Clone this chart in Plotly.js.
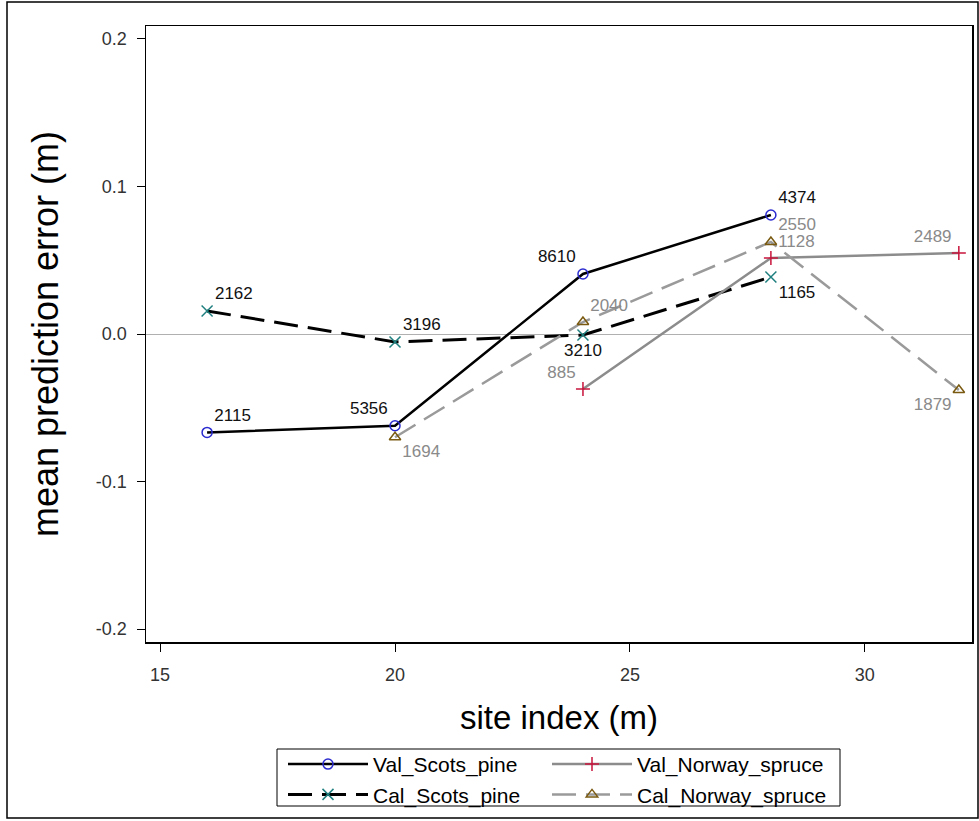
<!DOCTYPE html>
<html>
<head>
<meta charset="utf-8">
<script src="https://cdn.plot.ly/plotly-3.0.1.min.js"></script>
<style>
html,body{margin:0;padding:0;background:#fff;}
#chart{width:979px;height:821px;}
</style>
</head>
<body>
<div id="chart"></div>
<script>
// Data
const valScotsX = [16, 20, 24, 28];
const valScotsY = [-0.0667, -0.0622, 0.0407, 0.0807];
const valScotsN = ["2115", "5356", "8610", "4374"];

const calScotsX = [16, 20, 24, 28];
const calScotsY = [0.0156, -0.0054, -0.0007, 0.0386];
const calScotsN = ["2162", "3196", "3210", "1165"];

const valSpruceX = [24, 28, 32];
const valSpruceY = [-0.0373, 0.0515, 0.0549];
const valSpruceN = ["885", "1128", "2489"];

const calSpruceX = [20, 24, 28, 32];
const calSpruceY = [-0.0700, 0.0081, 0.0624, -0.0380];
const calSpruceN = ["1694", "2040", "2550", "1879"];

const xTicks = [15, 20, 25, 30];
const yTicks = [-0.2, -0.1, 0.0, 0.1, 0.2];
const yTickText = ["-0.2", "-0.1", "0.0", "0.1", "0.2"];

const FAM = "Liberation Sans, Arial, sans-serif";
const lblFont = (c) => ({family: FAM, size: 17, color: c});

const traces = [
  {
    name: "Val_Scots_pine", x: valScotsX, y: valScotsY, text: valScotsN,
    mode: "lines+markers+text", type: "scatter", legend: "legend",
    textposition: ["top right", "top left", "top left", "top right"],
    textfont: lblFont("#111"),
    line: {color: "#000", width: 2.5, dash: "solid"},
    marker: {symbol: "circle-open", size: 10, color: "#2b2bd0", line: {width: 1.5}}
  },
  {
    name: "Cal_Scots_pine", x: calScotsX, y: calScotsY, text: calScotsN,
    mode: "lines+markers+text", type: "scatter", legend: "legend",
    textposition: ["top right", "top right", "bottom center", "bottom right"],
    textfont: lblFont("#111"),
    line: {color: "#000", width: 3, dash: "24px,10px"},
    marker: {symbol: "x-thin-open", size: 11, color: "#1f7f7f", line: {width: 1.5}}
  },
  {
    name: "Val_Norway_spruce", x: valSpruceX, y: valSpruceY, text: valSpruceN,
    mode: "lines+markers+text", type: "scatter", legend: "legend2",
    textposition: ["top left", "top right", "top left"],
    textfont: lblFont("#8a8a8a"),
    line: {color: "#8c8c8c", width: 2.5, dash: "solid"},
    marker: {symbol: "cross-thin-open", size: 10, color: "#c8143c", line: {width: 1.5}}
  },
  {
    name: "Cal_Norway_spruce", x: calSpruceX, y: calSpruceY, text: calSpruceN,
    mode: "lines+markers+text", type: "scatter", legend: "legend2",
    textposition: ["bottom right", "top right", "top right", "bottom left"],
    textfont: lblFont("#8a8a8a"),
    line: {color: "#9a9a9a", width: 2.5, dash: "24px,10px"},
    marker: {symbol: "triangle-up-open", size: 10, color: "#7a5a10", line: {width: 1.5}}
  }
];

const legendCommon = {
  orientation: "v", xanchor: "left", yanchor: "top", y: -0.1655,
  borderwidth: 0, bgcolor: "rgba(0,0,0,0)",
  font: {family: FAM, size: 21, color: "#000"},
  itemwidth: 80, tracegroupgap: 0, traceorder: "normal"
};

const layout = {
  width: 979, height: 821,
  paper_bgcolor: "#fff", plot_bgcolor: "#fff",
  margin: {l: 146, r: 7, t: 26, b: 179, autoexpand: false},
  font: {family: FAM, color: "#000"},
  showlegend: true,
  legend: Object.assign({}, legendCommon, {x: (283 - 146) / 826}),
  legend2: Object.assign({}, legendCommon, {x: (547 - 146) / 826}),
  xaxis: {
    range: [14.70, 32.28], tickvals: xTicks, ticktext: xTicks.map(String),
    showgrid: false, zeroline: false, showline: true, linecolor: "#000", linewidth: 1.5, mirror: true,
    ticks: "outside", ticklen: 8, tickcolor: "#000", tickwidth: 1, ticklabelstandoff: 8,
    tickfont: {family: FAM, size: 18, color: "#333"},
    title: {text: "site index (m)", font: {family: FAM, size: 33, color: "#000"}, standoff: 22},
    automargin: true
  },
  yaxis: {
    range: [-0.2088, 0.2088], tickvals: yTicks, ticktext: yTickText,
    showgrid: false, zeroline: true, zerolinecolor: "#b0b0b0", zerolinewidth: 1,
    showline: true, linecolor: "#000", linewidth: 1.5, mirror: true,
    ticks: "outside", ticklen: 8, tickcolor: "#000", tickwidth: 1, ticklabelstandoff: 6,
    tickfont: {family: FAM, size: 18, color: "#333"},
    title: {text: "mean prediction error (m)", font: {family: FAM, size: 36, color: "#000"}, standoff: 26},
    automargin: true
  },
  shapes: [
    {type: "rect", xref: "paper", yref: "paper",
     x0: (7 - 146) / 826, x1: (978 - 146) / 826,
     y0: (642 - 818) / 616, y1: (642 - 2) / 616,
     line: {color: "#000", width: 1.5}, fillcolor: "rgba(0,0,0,0)", layer: "below"},
    {type: "rect", xref: "paper", yref: "paper",
     x0: (277 - 146) / 826, x1: (840 - 146) / 826,
     y0: (642 - 806) / 616, y1: (642 - 749) / 616,
     line: {color: "#000", width: 1}, fillcolor: "rgba(0,0,0,0)", layer: "below"}
  ]
};

Plotly.newPlot("chart", traces, layout, {displayModeBar: false, staticPlot: true});
</script>
</body>
</html>
